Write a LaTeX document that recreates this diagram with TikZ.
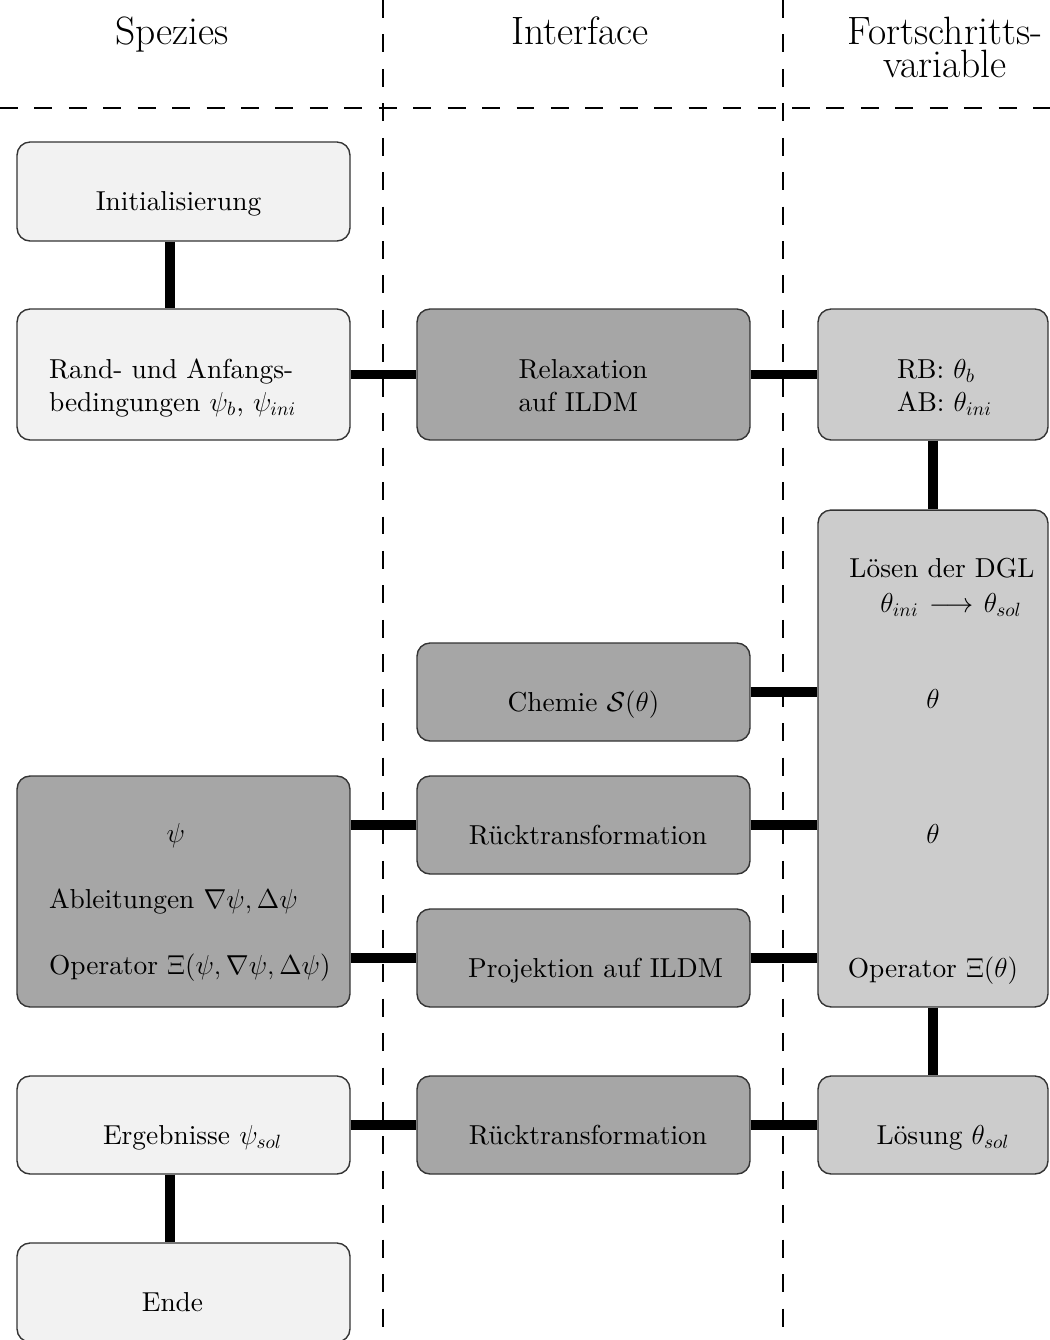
\RequirePackage{fix-cm}
\documentclass[tikz,border=0pt]{standalone}
\usepackage{fontspec}
\newfontfamily\bodyfont{lmroman10-regular.otf}
\newfontfamily\headfont{lmroman17-regular.otf}
\begin{document}
\begin{tikzpicture}[x=0.02cm,y=-0.02cm]
\tikzset{
  box/.style={draw=black!80, line width=0.8pt, rounded corners=0.26cm,
    minimum width=6.66cm, inner sep=0pt, align=center,
    font=\bodyfont\fontsize{15.6}{18.8}\selectfont},
  boxR/.style={box, minimum width=4.6cm},
  oneline/.style={text height=0.9cm, text depth=0.14cm},
  twoline/.style={align=left, text height=0.94cm, text depth=0.8cm},
  fillL/.style={fill=black!5},
  fillD/.style={fill=black!35},
  fillM/.style={fill=black!20},
  conn/.style={line width=5.3pt},
  sepline/.style={dash pattern=on 10.2pt off 9.4pt, line width=0.7pt},
  head/.style={align=center, font=\headfont\fontsize{22.5}{18.8}\selectfont}
}
\useasboundingbox (0,0) rectangle (1050,1340);

% separators
\coordinate (vA1) at (383,0);
\coordinate (vA2) at (383,1340);
\coordinate (vB1) at (783,0);
\coordinate (vB2) at (783,1340);
\coordinate (hA1) at (0,108);
\coordinate (hA2) at (1050,108);
\draw[sepline] (vA1) -- (vA2);
\draw[sepline] (vB1) -- (vB2);
\draw[sepline] (hA1) -- (hA2);

% headers
\node[head, anchor=base] (h1) at (172,44) {Spezies};
\node[head, anchor=base] (h2) at (580,44) {Interface};
\node[head] (h3) at (945,47) {Fortschritts-\\variable};

% boxes
\node[box, fillL, oneline, minimum height=1.98cm] (init) at (183.5,191.5) {Initialisierung\hspace*{0.2cm}};
\node[box, fillL, twoline, minimum height=2.62cm, text width=5.38cm] (rand) at (183.5,374.5)
  {Rand- und Anfangs-\\bedingungen $\psi_b$, $\psi_{ini}$};
\node[box, fillD, twoline, minimum height=2.62cm, text width=2.6cm] (relax) at (583.5,374.5) {Relaxation\\auf ILDM};
\node[boxR, fillM, twoline, minimum height=2.62cm, text width=2cm] (rb) at (933,374.5)
  {\hspace*{0.28cm}RB:~$\theta_b$\\\hspace*{0.28cm}AB:~$\theta_{ini}$};

\node[boxR, fillM, minimum height=9.94cm, text width=4.4cm, align=center,
  text height=0.9cm, text depth=8.16cm] (dgl) at (933,758.5)
  {\hspace*{0.36cm}Lösen der DGL\\[1.1pt] \hspace*{0.72cm}$\theta_{ini}\longrightarrow\theta_{sol}$\\[36.4pt] $\theta$\\[57.5pt] $\theta$\\[57.5pt] Operator $\Xi(\theta)$};

\node[box, fillD, oneline, minimum height=1.96cm] (chem) at (583.5,692) {Chemie $\mathcal{S}(\theta)$};
\node[box, fillD, oneline, minimum height=1.96cm] (rueck1) at (583.5,825) {\hspace*{0.18cm}Rücktransformation};
\node[box, fillD, oneline, minimum height=1.96cm] (proj) at (583.5,958) {\hspace*{0.48cm}Projektion auf ILDM};

\node[box, fillD, minimum height=4.62cm, text width=5.38cm, align=left,
  text height=0.84cm, text depth=2.82cm] (psi) at (183.5,891.5)
  {\hspace*{2.35cm}$\psi$\\[19pt] Ableitungen $\nabla\psi, \Delta\psi$\\[19pt] Operator~$\Xi(\psi, \nabla\psi, \Delta\psi)$};

\node[box, fillL, oneline, minimum height=1.96cm] (erg) at (183.5,1125) {\hspace*{0.36cm}Ergebnisse $\psi_{sol}$};
\node[box, fillD, oneline, minimum height=1.96cm] (rueck2) at (583.5,1125) {\hspace*{0.18cm}Rücktransformation};
\node[boxR, fillM, oneline, minimum height=1.96cm] (loes) at (933,1125) {\hspace*{0.4cm}Lösung $\theta_{sol}$};
\node[box, fillL, oneline, minimum height=1.98cm] (ende) at (183.5,1292.5) {Ende\hspace*{0.44cm}};

% connectors
\coordinate (axL) at (170,0);
\draw[conn] (init.south -| axL) -- (rand.north -| axL);
\draw[conn] (erg.south -| axL) -- (ende.north -| axL);
\draw[conn] (rand.east) -- (relax.west);
\draw[conn] (relax.east) -- (rb.west);
\draw[conn] (rb.south) -- (dgl.north);
\draw[conn] (chem.east) -- (chem.east -| dgl.west);
\draw[conn] (rueck1.west) -- (rueck1.west -| psi.east);
\draw[conn] (rueck1.east) -- (rueck1.east -| dgl.west);
\draw[conn] (proj.west) -- (proj.west -| psi.east);
\draw[conn] (proj.east) -- (proj.east -| dgl.west);
\draw[conn] (dgl.south) -- (loes.north);
\draw[conn] (erg.east) -- (rueck2.west);
\draw[conn] (rueck2.east) -- (loes.west);
\end{tikzpicture}
\end{document}
